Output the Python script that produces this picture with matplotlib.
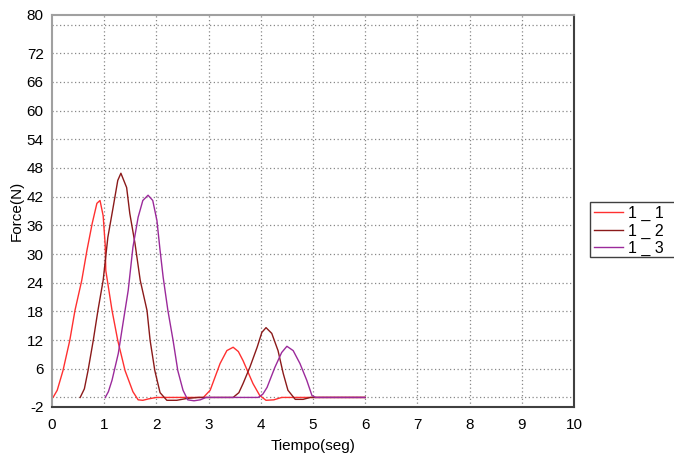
import matplotlib
matplotlib.use("Agg")
import matplotlib.pyplot as plt
from matplotlib.patches import Rectangle

plt.rcParams['font.family'] = ['Liberation Sans', 'DejaVu Sans']
plt.rcParams['axes.unicode_minus'] = False

# Series 1_1
t1 = [0.0, 0.02, 0.1, 0.21, 0.34, 0.44, 0.57, 0.67, 0.77, 0.86, 0.92, 0.98, 1.02, 1.03, 1.15,
      1.26, 1.40, 1.55, 1.65, 1.74, 1.85, 2.0, 2.9, 3.03, 3.22, 3.35, 3.47, 3.57, 3.66, 3.85,
      3.98, 4.1, 4.25, 4.4, 6.0]
v1 = [0.0, 0.0, 1.5, 5.6, 11.9, 18.2, 24.5, 30.8, 36.4, 40.6, 41.2, 38.0, 31.8, 26.6, 18.2,
      11.9, 5.6, 1.2, -0.5, -0.6, -0.3, 0.0, 0.0, 1.5, 7.1, 9.8, 10.5, 9.6, 7.7, 2.9,
      0.4, -0.6, -0.5, 0.0, 0.0]

# Series 1_2
t2 = [0.54, 0.62, 0.69, 0.79, 0.88, 0.98, 1.07, 1.17, 1.26, 1.32, 1.43, 1.49, 1.59, 1.69,
      1.82, 1.88, 1.97, 2.07, 2.2, 2.39, 2.59, 2.8, 3.47, 3.58, 3.66, 3.79, 3.93, 4.02, 4.1,
      4.21, 4.33, 4.43, 4.52, 4.66, 4.81, 4.95, 6.0]
v2 = [0.0, 1.8, 5.6, 11.9, 18.2, 24.5, 33.5, 39.7, 45.4, 46.9, 43.9, 38.5, 32.2, 24.5,
      18.2, 11.9, 5.6, 1.0, -0.6, -0.6, -0.2, 0.0, 0.0, 1.0, 2.9, 6.3, 10.5, 13.6, 14.6,
      13.4, 9.8, 5.0, 1.5, -0.4, -0.4, 0.0, 0.0]

# Series 1_3
t3 = [1.02, 1.08, 1.15, 1.27, 1.36, 1.46, 1.55, 1.65, 1.74, 1.84, 1.93, 2.01, 2.07, 2.13, 2.22,
      2.32, 2.41, 2.51, 2.6, 2.72, 2.84, 2.95, 3.95, 4.04, 4.12, 4.27, 4.4, 4.5, 4.62, 4.75,
      4.88, 4.98, 5.05, 6.0]
v3 = [0.0, 1.2, 3.6, 9.2, 15.5, 22.4, 31.4, 37.7, 41.2, 42.3, 41.2, 37.0, 30.8, 25.1, 18.2,
      11.9, 5.6, 1.5, -0.5, -0.7, -0.5, 0.0, 0.0, 0.7, 2.1, 6.3, 9.4, 10.7, 9.8, 7.1,
      3.6, 0.4, 0.0, 0.0]

series_names = ["1 _ 1", "1 _ 2", "1 _ 3"]
series_colors = ["#FF3030", "#8B1A1A", "#9B2A9B"]

y_ticks = [-2, 6, 12, 18, 24, 30, 36, 42, 48, 54, 60, 66, 72, 80]
y_grid = list(range(0, 79, 6))
x_ticks = list(range(0, 11))

fig = plt.figure(figsize=(6.74, 4.59), dpi=100)
ax = fig.add_axes([52 / 674, 1 - 407 / 459, (574 - 52) / 674, (407 - 15) / 459])

grid_kw = dict(color='#888888', linestyle=(0, (1, 2)), linewidth=0.9, zorder=0.5)
for g in y_grid:
    ax.axhline(g, **grid_kw)
for g in x_ticks[1:-1]:
    ax.axvline(g, **grid_kw)

lines = []
lines += ax.plot(t1, v1, color=series_colors[0], lw=1.0, label=series_names[0])
lines += ax.plot(t2, v2, color=series_colors[1], lw=1.0, label=series_names[1])
lines += ax.plot(t3, v3, color=series_colors[2], lw=1.0, label=series_names[2])

ax.set_xlim(0, 10)
ax.set_ylim(-2, 80)
ax.set_xticks(x_ticks)
ax.set_yticks(y_ticks)
ax.tick_params(axis='both', which='both', length=0, labelsize=11, colors='black')
ax.tick_params(axis='y', pad=6)
ax.tick_params(axis='x', pad=8)

for side in ['left', 'top']:
    ax.spines[side].set_color('#A0A0A0')
    ax.spines[side].set_linewidth(1.5)
for side in ['right', 'bottom']:
    ax.spines[side].set_color('#404040')
    ax.spines[side].set_linewidth(1.5)

ax.set_xlabel("Tiempo(seg)", fontsize=11, labelpad=5)
ax.set_ylabel("Force(N)", fontsize=11, labelpad=2)

# legend box (extends past the right edge as in the reference)
box = Rectangle((590 / 674, 1 - 257 / 459), 100 / 674, 55 / 459,
                transform=fig.transFigure, facecolor='white',
                edgecolor='#404040', linewidth=1.0)
box.set_zorder(5)
fig.patches.append(box)
leg = fig.legend(handles=lines, labels=series_names, loc='upper left',
                 bbox_to_anchor=(594 / 674, 1 - 206 / 459),
                 bbox_transform=fig.transFigure, frameon=False,
                 fontsize=11.5, handlelength=1.8, handletextpad=0.3,
                 borderpad=0.0, labelspacing=0.15, borderaxespad=0)
leg.set_zorder(6)

fig.savefig("out.png", dpi=100)
